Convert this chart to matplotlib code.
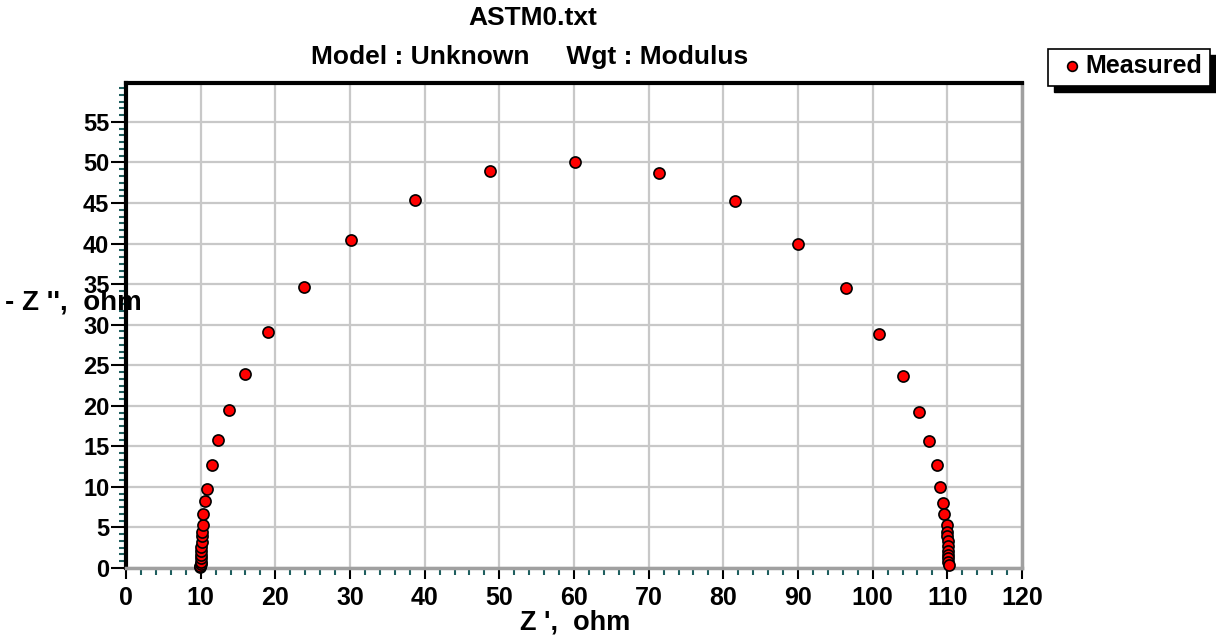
import numpy as np
import matplotlib.pyplot as plt
from matplotlib.ticker import MultipleLocator
from matplotlib.patches import Rectangle
from matplotlib.lines import Line2D

plt.rcParams['font.family'] = ['Liberation Sans', 'DejaVu Sans']
plt.rcParams['font.weight'] = 'bold'

# Nyquist data: Z' (ohm) and -Z'' (ohm)
z_real = [9.95, 9.97, 10.0, 10.0, 10.02, 10.05, 10.08, 10.1, 10.12, 10.15,
          10.2, 10.25, 10.35, 10.6, 10.85, 11.5, 12.3, 13.8, 15.9, 19.0,
          23.8, 30.2, 38.7, 48.8, 60.2, 71.4, 81.5, 90.0, 96.4, 100.8,
          104.1, 106.2, 107.5, 108.6, 109.0, 109.4, 109.6, 109.9, 110.0, 110.0,
          110.05, 110.1, 110.1, 110.12, 110.15, 110.15, 110.2]
z_imag = [0.15, 0.3, 0.5, 0.8, 1.2, 1.6, 2.1, 2.6, 3.2, 3.9,
          4.5, 5.3, 6.6, 8.2, 9.8, 12.7, 15.8, 19.5, 23.9, 29.1,
          34.6, 40.4, 45.4, 49.0, 50.1, 48.7, 45.3, 40.0, 34.5, 28.8,
          23.7, 19.2, 15.7, 12.7, 10.0, 8.0, 6.6, 5.3, 4.5, 3.9,
          3.3, 2.7, 2.1, 1.6, 1.2, 0.7, 0.35]

fig = plt.figure(figsize=(12.16, 6.43), dpi=100)
ax = fig.add_axes([126 / 1216, 75 / 643, 896 / 1216, 485 / 643])

ax.plot(z_real, z_imag, 'o', color='#ff0000', markeredgecolor='black',
        markersize=8, markeredgewidth=1.2, zorder=3, clip_on=False)

ax.set_xlim(0, 120)
ax.set_ylim(0, 59.8)
ax.xaxis.set_major_locator(MultipleLocator(10))
ax.xaxis.set_minor_locator(MultipleLocator(2))
ax.yaxis.set_major_locator(MultipleLocator(5))
ax.yaxis.set_minor_locator(MultipleLocator(5 / 6))
ax.grid(True, which='major', color='#c8c8c8', linewidth=1.6, zorder=0)
ax.set_axisbelow(True)

ax.tick_params(axis='x', which='major', direction='out', length=8, width=1.5, color='black')
ax.tick_params(axis='y', which='major', direction='out', length=11, width=1.5, color='black')
ax.tick_params(which='minor', direction='out', length=5, width=1.5, color='#1f5f5f')
ax.tick_params(axis='x', labelsize=18, pad=5)
ax.tick_params(axis='y', labelsize=17, pad=1)
for lab in ax.get_xticklabels() + ax.get_yticklabels():
    lab.set_fontweight('bold')

ax.spines['left'].set_linewidth(3)
ax.spines['top'].set_linewidth(3)
ax.spines['right'].set_color('#a0a0a0')
ax.spines['right'].set_linewidth(2.5)
ax.spines['bottom'].set_color('#a0a0a0')
ax.spines['bottom'].set_linewidth(2.5)

fig.text(533 / 1216, 1 - 18 / 643, 'ASTM0.txt', ha='center', va='center',
         fontsize=19, fontweight='bold')
fig.text(530 / 1216, 1 - 57 / 643, 'Model : Unknown     Wgt : Modulus',
         ha='center', va='center', fontsize=19, fontweight='bold')
fig.text(575 / 1216, 1 - 622 / 643, "Z ',  ohm", ha='center', va='center',
         fontsize=19.5, fontweight='bold')
fig.text(5 / 1216, 1 - 302 / 643, "- Z '',  ohm", ha='left', va='center',
         fontsize=20, fontweight='bold')

# legend box with drop shadow
fig.patches.append(Rectangle((1054 / 1216, 1 - 92 / 643), 162 / 1216, 37 / 643,
                             transform=fig.transFigure, facecolor='black',
                             edgecolor='black', zorder=1))
fig.patches.append(Rectangle((1048 / 1216, 1 - 86 / 643), 162 / 1216, 37 / 643,
                             transform=fig.transFigure, facecolor='white',
                             edgecolor='black', linewidth=1.2, zorder=2))
fig.lines.append(Line2D([1072 / 1216], [1 - 66 / 643], transform=fig.transFigure,
                        marker='o', color='#ff0000', markeredgecolor='black',
                        markersize=7, markeredgewidth=1.2, zorder=3))
fig.text(1085 / 1216, 1 - 66 / 643, 'Measured', ha='left', va='center',
         fontsize=18, fontweight='bold', zorder=4)

fig.savefig('out.png', dpi=100)
